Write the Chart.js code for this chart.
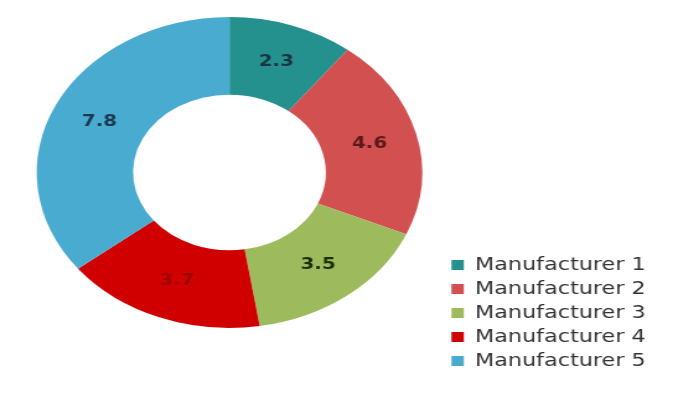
<!DOCTYPE html>
<html>
<head>
<meta charset="utf-8">
<script src="https://cdn.jsdelivr.net/npm/chart.js@4.4.0/dist/chart.umd.min.js"></script>
<style>
  html, body { margin: 0; padding: 0; background: #ffffff; overflow: hidden; }
  #wrap { position: absolute; left: 0; top: 0; width: 543px; height: 411px;
          transform: scaleX(1.2394); transform-origin: 0 0; }
</style>
</head>
<body>
<div id="wrap"><canvas id="c"></canvas></div>
<script>
const categories = ["Manufacturer 1", "Manufacturer 2", "Manufacturer 3", "Manufacturer 4", "Manufacturer 5"];
const values = [2.3, 4.6, 3.5, 3.7, 7.8];
const sliceColors = ["#25918f", "#d2504f", "#9dbb5c", "#d00000", "#4aabd0"];
const labelColors = ["#1b3440", "#5a1a1a", "#1f3008", "#a00000", "#1a3a50"];

const valueLabels = {
  id: 'valueLabels',
  afterDatasetsDraw(chart) {
    const ctx = chart.ctx;
    const meta = chart.getDatasetMeta(0);
    ctx.save();
    ctx.font = 'bold 16px "DejaVu Sans"';
    ctx.textAlign = 'center';
    ctx.textBaseline = 'middle';
    meta.data.forEach((arc, i) => {
      const p = arc.tooltipPosition();
      ctx.fillStyle = labelColors[i];
      ctx.fillText(String(values[i]), p.x, p.y);
    });
    ctx.restore();
  }
};

// move the legend block lower than the chart area's bottom edge
const legendShift = {
  id: 'legendShift',
  afterLayout(chart) {
    const lg = chart.legend;
    if (lg) { lg.top += 48; lg.bottom += 48; lg.left -= 2; lg.right -= 2; }
  }
};

new Chart(document.getElementById('c'), {
  type: 'doughnut',
  data: {
    labels: categories,
    datasets: [{
      data: values,
      backgroundColor: sliceColors,
      borderWidth: 0
    }]
  },
  options: {
    responsive: true,
    maintainAspectRatio: false,
    animation: false,
    cutout: '50%',
    layout: { padding: { left: 10, top: 17, bottom: 83, right: 10 } },
    plugins: {
      tooltip: { enabled: false },
      legend: {
        position: 'right',
        align: 'end',
        labels: {
          boxWidth: 10,
          boxHeight: 10,
          padding: 6,
          color: '#333333',
          font: { family: '"DejaVu Sans"', size: 18 }
        }
      }
    }
  },
  plugins: [valueLabels, legendShift]
});
</script>
</body>
</html>
